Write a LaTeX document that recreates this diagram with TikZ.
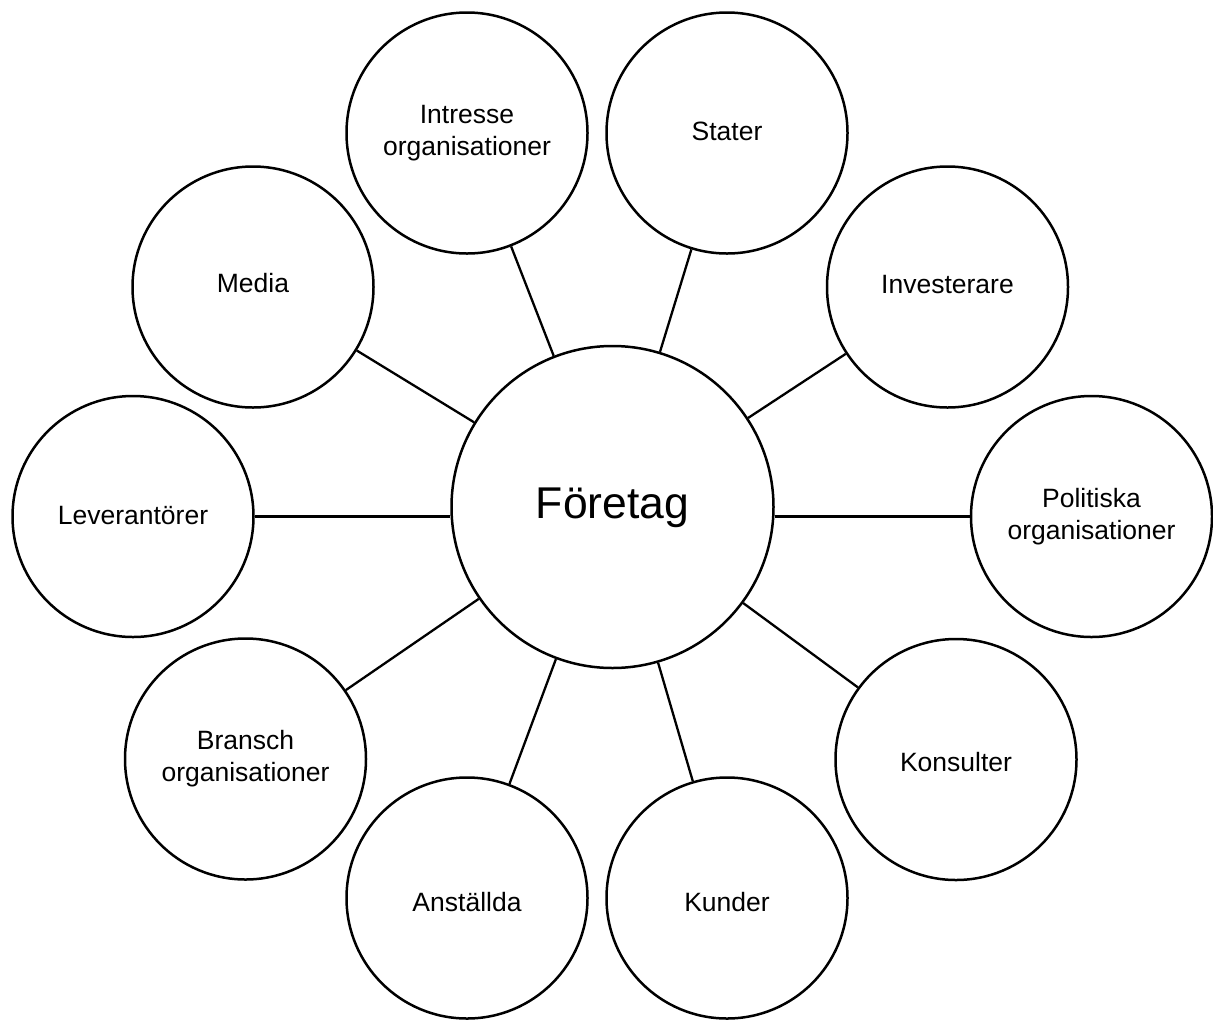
\documentclass[tikz,border=0pt]{standalone}
\usepackage{fontspec}
\setmainfont{Liberation Sans}
\begin{document}
\begin{tikzpicture}[x=1pt,y=-1pt,
  outer/.style={circle,draw=black,line width=2.5pt,fill=white,minimum size=241pt,inner sep=0pt,
    align=center,font=\fontsize{26.5}{32}\selectfont},
  th/.style={text depth=0pt,text height=#1},
  hub/.style={circle,draw=black,line width=2.5pt,fill=white,minimum size=322pt,inner sep=0pt,
    font=\fontsize{44.5}{53}\selectfont,text depth=0pt,text height=22.9pt},
  link/.style={draw=black,line width=2.3pt}]
\path[use as bounding box,fill=white] (0,0) rectangle (1213,1021);

\node[hub] (c) at (612.5,507) {Företag};

\node[outer,th=16pt] (lev) at (133,516.5) {Leverantörer};
\node[outer] (pol) at (1091.5,516.5) {Politiska\\organisationer};
\node[outer,th=11pt] (med) at (253,287) {Media};
\node[outer,th=12pt] (inv) at (947.5,287) {Investerare};
\node[outer] (int) at (467,133) {Intresse\\organisationer};
\node[outer,th=15pt] (sta) at (727,133) {Stater};
\node[outer] (bra) at (245.5,759) {Bransch\\organisationer};
\node[outer,th=23pt] (kon) at (956,759.5) {Konsulter};
\node[outer,th=27pt] (ans) at (467,898) {Anställda};
\node[outer,th=27pt] (kun) at (727,898) {Kunder};

\draw[link] (lev.east) -- (lev.east -| c.west);
\draw[link] (pol.west) -- (pol.west -| c.east);
\foreach \n in {med,inv,int,sta,bra,kon,ans,kun}
  \draw[link] (\n) -- (c);
\end{tikzpicture}
\end{document}
